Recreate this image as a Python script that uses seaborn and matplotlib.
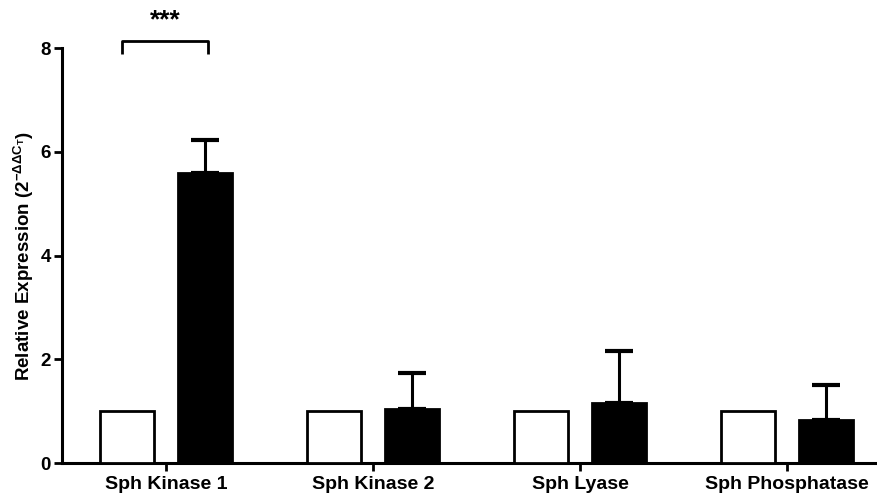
import matplotlib
matplotlib.use("Agg")
import matplotlib.pyplot as plt
import seaborn as sns
import pandas as pd

# Expression data
genes = ["Sph Kinase 1", "Sph Kinase 2", "Sph Lyase", "Sph Phosphatase"]
groups = ["Control", "Treated"]
control_mean = [1.0, 1.0, 1.0, 1.0]
treated_mean = [5.6, 1.05, 1.15, 0.83]
treated_err = [0.63, 0.68, 1.0, 0.67]
y_ticks = [0, 2, 4, 6, 8]

sns.set_theme(style="ticks")
plt.rcParams["font.family"] = ["Liberation Sans", "DejaVu Sans"]
plt.rcParams["font.weight"] = "bold"
plt.rcParams["text.color"] = "black"
plt.rcParams["axes.labelcolor"] = "black"
plt.rcParams["mathtext.fontset"] = "custom"
plt.rcParams["mathtext.bf"] = "Liberation Sans:bold"
plt.rcParams["mathtext.rm"] = "Liberation Sans:bold"
plt.rcParams["mathtext.it"] = "Liberation Sans:bold"
plt.rcParams["mathtext.default"] = "bf"

df = pd.DataFrame({
    "gene": genes * 2,
    "group": [groups[0]] * len(genes) + [groups[1]] * len(genes),
    "value": control_mean + treated_mean,
})

fig = plt.figure(figsize=(8.77, 4.99), dpi=100)
ax = fig.add_axes([0.0707, 0.0721, 0.9293, 0.8317])

sns.barplot(
    data=df, x="gene", y="value", hue="group", order=genes, hue_order=groups,
    palette={"Control": "white", "Treated": "black"},
    edgecolor="black", linewidth=2.0, width=0.75, gap=0.3,
    errorbar=None, legend=False, ax=ax, zorder=3,
)

# one-sided error bars on the treated bars
treated_bars = ax.containers[1]
xs = [p.get_x() + p.get_width() / 2 for p in treated_bars]
ax.errorbar(xs, treated_mean, yerr=[[0] * len(treated_err), treated_err],
            fmt="none", ecolor="black", elinewidth=2.2, capsize=10,
            capthick=3.0, zorder=2)

ax.set_ylim(0, 8)
ax.set_yticks(y_ticks)
ax.set_xlim(-0.502, 3.435)
ax.set_xlabel("")
ax.set_ylabel(r"Relative Expression (2$^{-\Delta\Delta C_T}$)",
              fontsize=13.5, fontweight="bold", color="black", labelpad=3)

for s in ["top", "right"]:
    ax.spines[s].set_visible(False)
for s in ["left", "bottom"]:
    ax.spines[s].set_linewidth(2.2)
    ax.spines[s].set_color("black")
ax.tick_params(axis="both", width=2.0, length=6, colors="black")
ax.tick_params(axis="y", pad=2, labelsize=13.5)
ax.tick_params(axis="x", pad=3, labelsize=14)
for lab in ax.get_xticklabels() + ax.get_yticklabels():
    lab.set_fontweight("bold")

# significance bracket between the first pair of bars
c0 = ax.containers[0][0]
c1 = ax.containers[1][0]
xl = c0.get_x() + c0.get_width() / 2 - 0.025
xr = c1.get_x() + c1.get_width() / 2 + 0.015
ax.plot([xl, xl, xr, xr], [7.88, 8.14, 8.14, 7.88], color="black",
        lw=2.0, clip_on=False, solid_capstyle="butt")
ax.text((xl + xr) / 2, 8.3, "***", ha="center", va="bottom",
        fontsize=19, fontweight="bold", color="black", clip_on=False)

fig.savefig("out.png", dpi=100)
